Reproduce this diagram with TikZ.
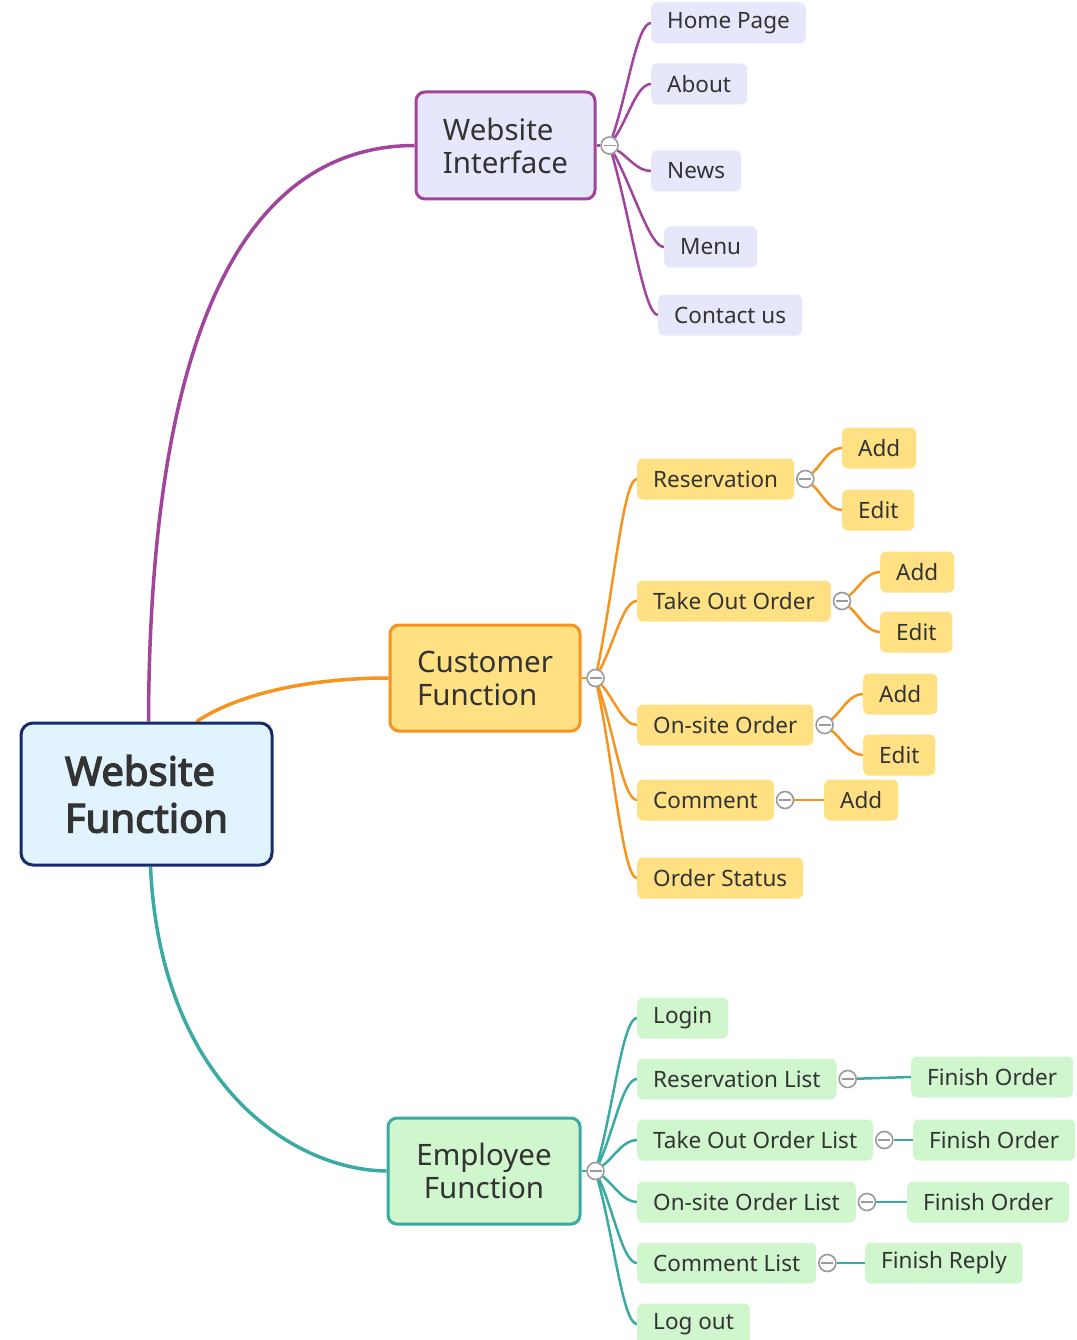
\documentclass[tikz,border=0pt]{standalone}
\usepackage{fontspec}
\setmainfont{Noto Sans}
\newfontfamily\rootfont{Noto Sans}[FakeBold=3.2]
\usetikzlibrary{calc,backgrounds}
\definecolor{ink}{HTML}{333333}
\definecolor{hubgray}{HTML}{9A9A9A}
\definecolor{rootfill}{HTML}{E1F3FD}
\definecolor{rootline}{HTML}{172B6B}
\definecolor{wifill}{HTML}{E6E7FB}
\definecolor{wiline}{HTML}{A0449C}
\definecolor{cffill}{HTML}{FFE083}
\definecolor{cfline}{HTML}{F7941D}
\definecolor{effill}{HTML}{CFF6CD}
\definecolor{efline}{HTML}{3BAAA5}
\tikzset{
  topic/.style={draw, line width=3pt, rounded corners=9pt, text=ink, align=left,
    font=\fontsize{29.5}{33}\selectfont, inner sep=0pt},
  leaf/.style={anchor=west, rounded corners=6pt, minimum height=41pt, inner xsep=16pt,
    inner ysep=0pt, text=ink, font=\fontsize{22.5}{25}\selectfont},
  wileaf/.style={leaf, fill=wifill},
  cfleaf/.style={leaf, fill=cffill},
  efleaf/.style={leaf, fill=effill},
  hub/.style={circle, draw=hubgray, fill=white, line width=1.6pt, minimum size=17pt,
    inner sep=0pt, path picture={\draw[hubgray, line width=1.6pt]
      ([xshift=-6pt]path picture bounding box.center) -- ([xshift=6pt]path picture bounding box.center);}},
  twig/.style={to path={.. controls ($(\tikztostart)!0.45!(\tikztotarget)$) and ([xshift=-14pt]\tikztotarget) .. (\tikztotarget)}},
  wiedge/.style={draw=wiline, line width=2.5pt},
  cfedge/.style={draw=cfline, line width=2.5pt},
  efedge/.style={draw=efline, line width=2.5pt}
}
\begin{document}
\begin{tikzpicture}[x=1pt, y=-1pt]
\useasboundingbox (0,0) rectangle (1076,1340);
\begin{scope}[on background layer]
  \fill[white] (0,0) rectangle (1076,1340);
\end{scope}

% topics
\node[draw=rootline, fill=rootfill, line width=3pt, rounded corners=12pt, text=ink, align=left,
  font=\rootfont\fontsize{40}{47}\selectfont, minimum width=251pt, minimum height=142pt] (root) at (146.5,794) {Website\\Function};
\node[topic, draw=wiline, fill=wifill, minimum width=179pt, minimum height=107pt] (wi) at (505.5,145.5) {Website\\Interface};
\node[topic, draw=cfline, fill=cffill, minimum width=190pt, minimum height=106pt] (cf) at (485,678) {Customer\\Function};
\node[topic, draw=efline, fill=effill, minimum width=192pt, minimum height=106pt, align=center] (ef) at (484,1171) {Employee\\Function};

\node[hub] (wihub) at ([xshift=13pt]wi.east) {};
\node[hub] (cfhub) at ([xshift=14pt]cf.east) {};
\node[hub] (efhub) at ([xshift=14pt]ef.east) {};

% website interface
\node[wileaf] (home) at (651,23) {Home Page};
\node[wileaf] (about) at (651,84) {About};
\node[wileaf] (news) at (651,171) {News};
\node[wileaf] (menu) at (664,247) {Menu};
\node[wileaf] (contact) at (658,315) {Contact us};

% customer function
\node[cfleaf] (res) at (637,479) {Reservation};
\node[hub] (reshub) at ([xshift=11pt]res.east) {};
\node[cfleaf] (resadd) at (842,448) {Add};
\node[cfleaf] (resedit) at (842,510) {Edit};
\node[cfleaf] (take) at (637,601) {Take Out Order};
\node[hub] (takehub) at ([xshift=11pt]take.east) {};
\node[cfleaf] (takeadd) at (880,572) {Add};
\node[cfleaf] (takeedit) at (880,632) {Edit};
\node[cfleaf] (onsite) at (637,725) {On-site Order};
\node[hub] (onsitehub) at ([xshift=11pt]onsite.east) {};
\node[cfleaf] (onsiteadd) at (863,694) {Add};
\node[cfleaf] (onsiteedit) at (863,755) {Edit};
\node[cfleaf] (comm) at (637,800) {Comment};
\node[hub] (commhub) at ([xshift=11pt]comm.east) {};
\node[cfleaf] (commadd) at (824,800) {Add};
\node[cfleaf] (status) at (637,878) {Order Status};

% employee function
\node[efleaf] (login) at (637,1018) {Login};
\node[efleaf] (reslist) at (637,1079) {Reservation List};
\node[hub] (reslisthub) at ([xshift=11pt]reslist.east) {};
\node[efleaf] (resfin) at (911,1077) {Finish Order};
\node[efleaf] (takelist) at (637,1140) {Take Out Order List};
\node[hub] (takelisthub) at ([xshift=11pt]takelist.east) {};
\node[efleaf] (takefin) at (913,1140) {Finish Order};
\node[efleaf] (onlist) at (637,1202) {On-site Order List};
\node[hub] (onlisthub) at ([xshift=11pt]onlist.east) {};
\node[efleaf] (onfin) at (907,1202) {Finish Order};
\node[efleaf] (commlist) at (637,1263) {Comment List};
\node[hub] (commlisthub) at ([xshift=11pt]commlist.east) {};
\node[efleaf] (reply) at (865,1263) {Finish Reply};
\node[efleaf] (logout) at (637,1324) {Log out};

\begin{scope}[on background layer]
  \draw[wiedge, line width=3.5pt] ([xshift=2pt]root.north) .. controls (150,300) and (260,146) .. (wi.west);
  \draw[cfedge, line width=3.5pt] ([xshift=50pt]root.north) .. controls (245,690) and (320,678) .. (cf.west);
  \draw[efedge, line width=3.5pt] ([xshift=4pt]root.south) .. controls (160,1080) and (290,1170) .. (ef.west);
  \draw[wiedge] (wi.east) -- (wihub);
  \draw[cfedge] (cf.east) -- (cfhub);
  \draw[efedge] (ef.east) -- (efhub);
  \foreach \n in {home,about,news,menu,contact}
    \draw[wiedge] (wihub) to[twig] (\n.west);
  \foreach \n in {res,take,onsite,comm,status}
    \draw[cfedge] (cfhub) to[twig] (\n.west);
  \foreach \n in {res,take,onsite}{
    \draw[cfedge] (\n hub) to[twig] (\n add.west);
    \draw[cfedge] (\n hub) to[twig] (\n edit.west);
  }
  \draw[cfedge] (commhub) -- (commadd);
  \foreach \n in {login,reslist,takelist,onlist,commlist,logout}
    \draw[efedge] (efhub) to[twig] (\n.west);
  \draw[efedge] (reslisthub) -- (resfin.west);
  \draw[efedge] (takelisthub) -- (takefin.west);
  \draw[efedge] (onlisthub) -- (onfin.west);
  \draw[efedge] (commlisthub) -- (reply.west);
\end{scope}
\end{tikzpicture}
\end{document}
